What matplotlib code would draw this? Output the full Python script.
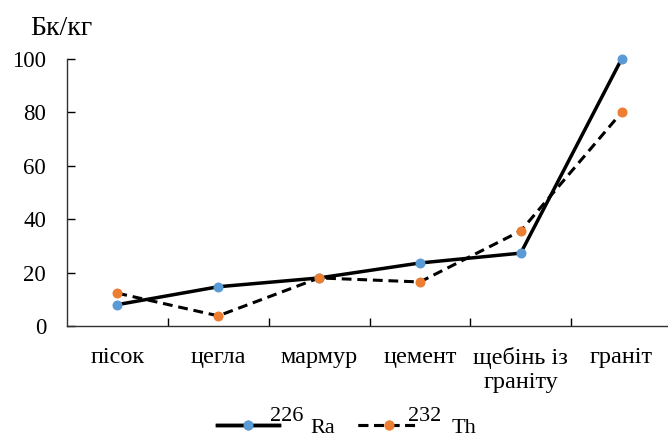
import matplotlib
matplotlib.use("Agg")
import matplotlib.pyplot as plt
from matplotlib.lines import Line2D

categories = ["пісок", "цегла", "мармур", "цемент", "щебінь із\nграніту", "граніт"]
ra226 = [8.0, 14.7, 18.0, 23.6, 27.3, 100.0]
th232 = [12.3, 3.8, 18.0, 16.5, 35.6, 80.0]
yticks = [0, 20, 40, 60, 80, 100]

plt.rcParams["font.family"] = ["Liberation Serif", "DejaVu Serif"]

W, H = 668, 438
fig = plt.figure(figsize=(W / 100, H / 100), dpi=100)
ax = fig.add_axes([67 / W, 1 - 326 / H, (672 - 67) / W, (326 - 59) / H])

ra_style = dict(color="black", lw=2.5, marker="o", ms=6.2,
                mfc="#5B9BD5", mec="#5B9BD5")
th_style = dict(color="black", lw=2.2, ls=(0, (3.2, 1.9)), marker="o", ms=6.2,
                mfc="#ED7D31", mec="#ED7D31")

x = list(range(len(categories)))
ax.plot(x, ra226, zorder=3, clip_on=False, **ra_style)
ax.plot(x, th232, zorder=3, clip_on=False, **th_style)

ax.set_xlim(-0.5, len(categories) - 0.5)
ax.set_ylim(0, 100)
ax.set_yticks(yticks)
ax.set_xticks(x)
ax.set_xticklabels(categories, fontsize=17.5, linespacing=1.2)
ax.set_xticks([i + 0.5 for i in x[:-1]], minor=True)
ax.tick_params(axis="x", which="major", length=0, pad=15)
ax.tick_params(axis="x", which="minor", direction="in", length=6, width=1)
ax.tick_params(axis="y", direction="in", length=6, width=1, labelsize=16.5, pad=15)
for s in ["top", "right"]:
    ax.spines[s].set_visible(False)
for s in ["left", "bottom"]:
    ax.spines[s].set_linewidth(1.0)
    ax.spines[s].set_color("#303030")

# unit label
fig.text(30 / W, 1 - 35 / H, "Бк/кг", fontsize=20, va="baseline", ha="left")

# legend: handles via matplotlib legends, isotope labels with full-size mass numbers
def handle_legend(style, x_px):
    h = Line2D([], [], **style)
    leg = fig.legend([h], [""], loc="center left",
                     bbox_to_anchor=(x_px / W, 1 - 427 / H),
                     frameon=False, fontsize=16.5, handlelength=2.7,
                     handletextpad=0, borderpad=0, borderaxespad=0)
    fig.add_artist(leg)

handle_legend(ra_style, 217)
handle_legend(th_style, 358)

fig.text(270 / W, 1 - 421 / H, "226", fontsize=16, va="baseline", ha="left")
fig.text(310 / W, 1 - 433 / H, "Ra", fontsize=16, va="baseline", ha="left")
fig.text(408 / W, 1 - 421 / H, "232", fontsize=16, va="baseline", ha="left")
fig.text(452 / W, 1 - 433 / H, "Th", fontsize=16, va="baseline", ha="left")

fig.savefig("out.png", dpi=100)
